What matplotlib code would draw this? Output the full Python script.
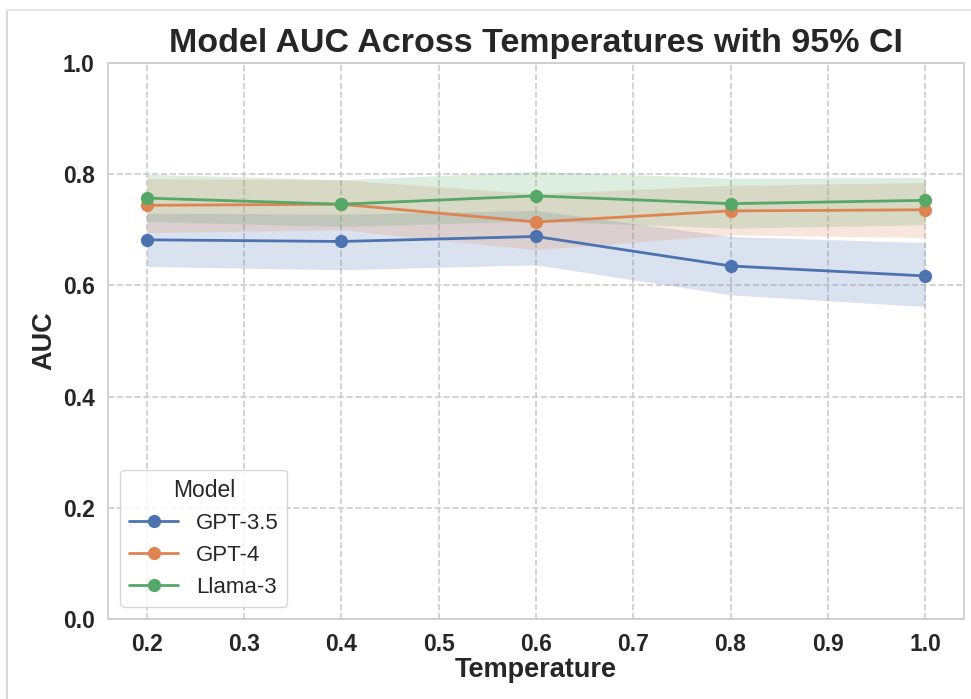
import matplotlib
matplotlib.use("Agg")
import matplotlib.pyplot as plt
from matplotlib.lines import Line2D
import seaborn as sns
import numpy as np

temps = [0.2, 0.4, 0.6, 0.8, 1.0]
models = ["GPT-3.5", "GPT-4", "Llama-3"]

auc_gpt35 = [0.682, 0.679, 0.688, 0.635, 0.617]
lo_gpt35 = [0.634, 0.628, 0.637, 0.583, 0.562]
hi_gpt35 = [0.730, 0.728, 0.735, 0.688, 0.677]

auc_gpt4 = [0.744, 0.746, 0.714, 0.734, 0.736]
lo_gpt4 = [0.695, 0.700, 0.664, 0.691, 0.686]
hi_gpt4 = [0.792, 0.790, 0.765, 0.780, 0.785]

auc_llama = [0.757, 0.746, 0.761, 0.747, 0.753]
lo_llama = [0.715, 0.706, 0.716, 0.703, 0.709]
hi_llama = [0.800, 0.790, 0.805, 0.793, 0.794]

sns.set_theme(style="whitegrid")
plt.rcParams['font.family'] = ['Liberation Sans', 'DejaVu Sans']
colors = sns.color_palette("deep")

fig = plt.figure(figsize=(9.71, 6.99), dpi=100)
ax = fig.add_axes([0.1112, 0.1144, 0.8816, 0.7955])

series = [(auc_gpt35, lo_gpt35, hi_gpt35), (auc_gpt4, lo_gpt4, hi_gpt4),
          (auc_llama, lo_llama, hi_llama)]
for i, (name, (m, lo, hi)) in enumerate(zip(models, series)):
    ax.fill_between(temps, lo, hi, color=colors[i], alpha=0.2, linewidth=0)
    ax.plot(temps, m, marker="o", markersize=8.5, linewidth=2, color=colors[i], label=name)

ax.set_ylim(0, 1.0)
xt = np.arange(0.2, 1.01, 0.1)
yt = np.arange(0, 1.01, 0.2)
ax.set_xticks(xt)
ax.set_xticklabels([f"{t:.1f}" for t in xt])
ax.set_yticks(yt)
ax.set_yticklabels([f"{t:.1f}" for t in yt])
for lab in ax.get_xticklabels() + ax.get_yticklabels():
    lab.set_fontweight("bold")
    lab.set_fontsize(16.5)
ax.tick_params(axis="x", pad=4)
ax.grid(True, linestyle="--", color="#cccccc", linewidth=1.2)
for s in ax.spines.values():
    s.set_color("#cccccc")

ax.set_title("Model AUC Across Temperatures with 95% CI", fontsize=24.5, fontweight="bold", pad=8)
ax.set_xlabel("Temperature", fontsize=19.5, fontweight="bold", labelpad=1)
ax.set_ylabel("AUC", fontsize=19.5, fontweight="bold", labelpad=4)

leg = ax.legend(title="Model", loc="lower left", fontsize=16, title_fontsize=16.5,
                frameon=True, borderaxespad=0.55, handlelength=2.2)

# light frame from the original screenshot
fig.add_artist(Line2D([7 / 971, 7 / 971], [0, 1 - 10 / 699], transform=fig.transFigure,
                      color="#d9d9d9", linewidth=1.5))
fig.add_artist(Line2D([7 / 971, 1], [1 - 10 / 699, 1 - 10 / 699], transform=fig.transFigure,
                      color="#e6e6e6", linewidth=1.5))

fig.savefig("out.png", dpi=100)
